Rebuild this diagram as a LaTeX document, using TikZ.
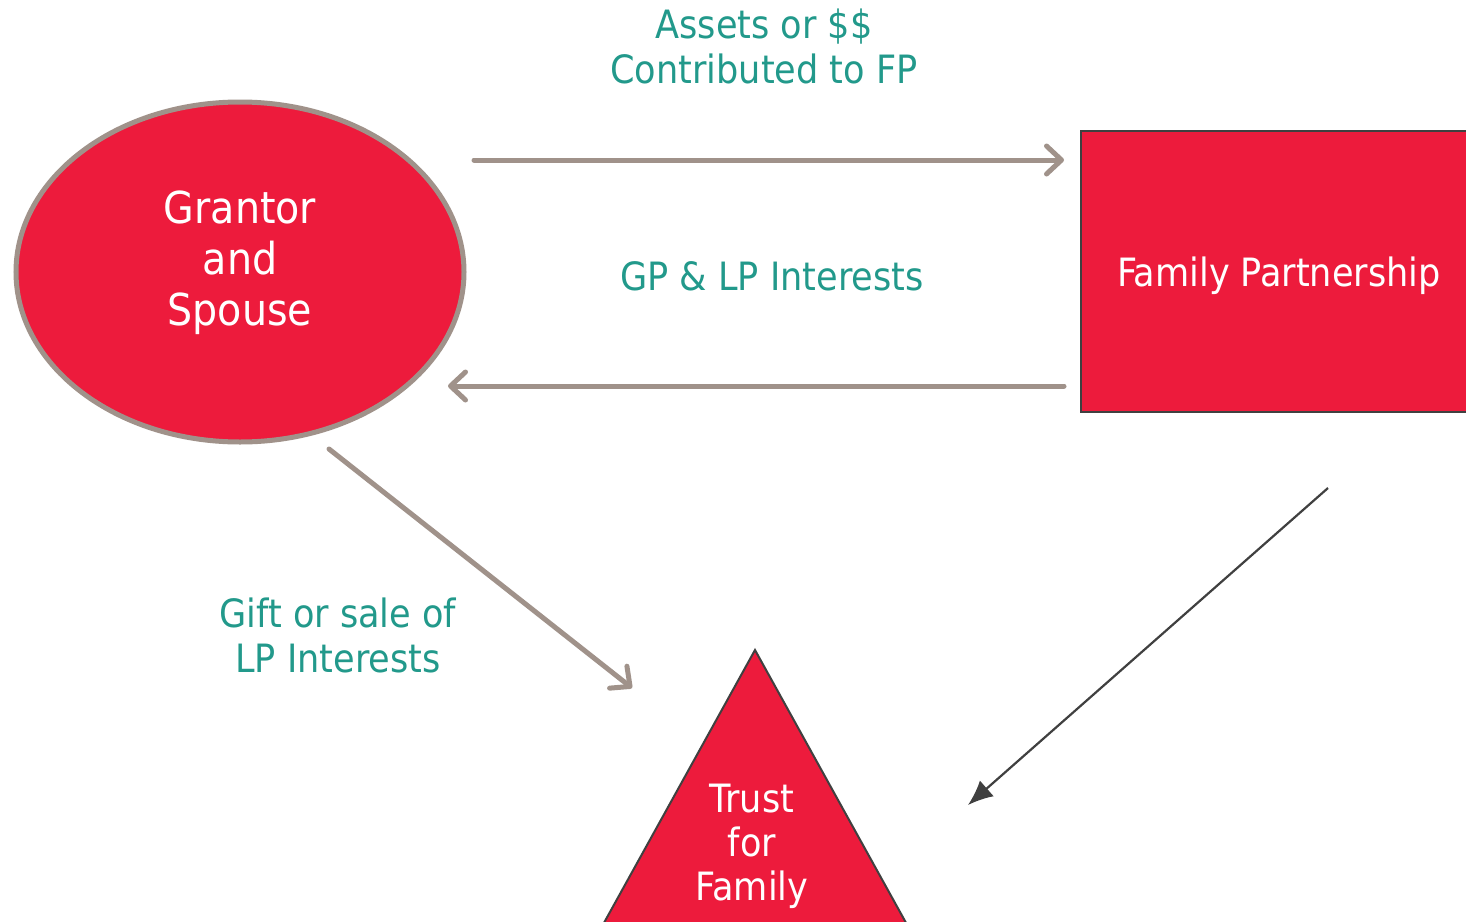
\documentclass[tikz,border=0pt]{standalone}
\usepackage{fontspec}
\setmainfont{DejaVu Sans Condensed}
\usetikzlibrary{arrows.meta,shapes.geometric}
\definecolor{boxred}{HTML}{ED1B3C}
\definecolor{flowgray}{HTML}{A0928A}
\definecolor{edgedark}{HTML}{404040}
\definecolor{labelteal}{HTML}{22998B}
\tikzset{
  flow/.style={draw=flowgray, line width=5pt, line cap=round,
    -{Straight Barb[length=15pt,width=28pt,line width=5pt,round]}},
  thinflow/.style={draw=edgedark, line width=2.2pt,
    -{Latex[length=25pt,width=21pt]}},
  flowlabel/.style={text=labelteal, align=center,
    font=\fontsize{39}{45}\selectfont},
  whitetext/.style={text=white, align=center}
}
\begin{document}
\begin{tikzpicture}[x=1pt,y=-1pt]
  \useasboundingbox (0,0) rectangle (1466,921);
  \clip (0,0) rectangle (1466,921);
  \fill[white] (0,0) rectangle (1466,921);

  % Grantor and Spouse
  \node[ellipse, fill=boxred, draw=flowgray, line width=5pt,
        minimum width=448pt, minimum height=340pt, inner sep=0pt]
    (grantor) at (240,272) {};
  \node[whitetext, font=\fontsize{44}{51}\selectfont]
    (grantortext) at (240,263) {Grantor\\and\\Spouse};

  % Family Partnership box (runs past the right edge)
  \path[fill=boxred, draw=edgedark, line width=2.5pt]
    (1081,131) rectangle (1480,412);
  \node[whitetext, font=\fontsize{39}{44}\selectfont]
    (fp) at (1279,276) {Family Partnership};

  % Trust for Family triangle (base below the bottom edge)
  \path[fill=boxred, draw=edgedark, line width=2pt, line join=miter]
    (755,650) -- (926.6,960) -- (583.4,960) -- cycle;
  \node[whitetext, font=\fontsize{39}{44}\selectfont]
    (trust) at (752,846) {Trust\\for\\Family};

  % Connector end points
  \coordinate (a1s) at (474,160);
  \coordinate (a1e) at (1064,160);
  \coordinate (a2s) at (1064,386);
  \coordinate (a2e) at (448,386);
  \coordinate (a3s) at (329,449);
  \coordinate (a3e) at (632,688);
  \coordinate (a4s) at (1328,488);
  \coordinate (a4e) at (968,805);

  \draw[flow] (a1s) -- (a1e);
  \draw[flow] (a2s) -- (a2e);
  \draw[flow] (a3s) -- (a3e);
  \draw[thinflow] (a4s) -- (a4e);

  % Labels
  \node[flowlabel] (lbl1) at (764,46) {Assets or \$\$\\Contributed to FP};
  \node[flowlabel] (lbl2) at (772,276) {GP \& LP Interests};
  \node[flowlabel] (lbl3) at (338,635) {Gift or sale of\\LP Interests};
\end{tikzpicture}
\end{document}
